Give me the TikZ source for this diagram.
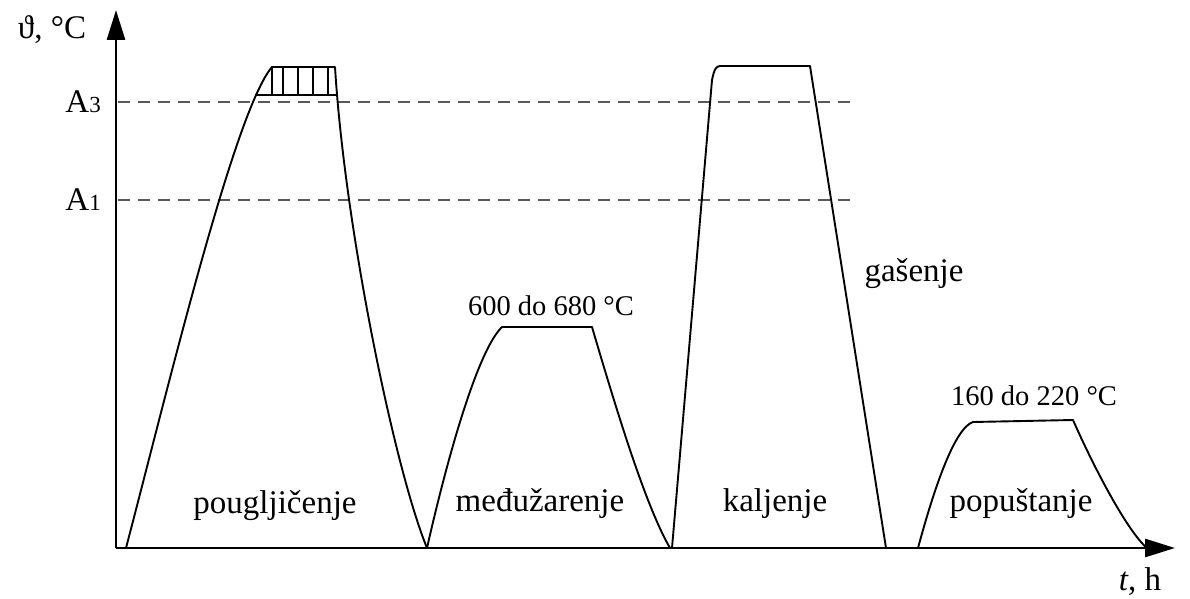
\documentclass[tikz,border=0pt]{standalone}
\usepackage{fontspec}
\setmainfont{Liberation Serif}
\usetikzlibrary{arrows.meta}
\begin{document}
\begin{tikzpicture}[x=1pt,y=-1pt,
  axis/.style={line width=2.8pt,-{Triangle[length=30pt,width=18pt]}},
  curve/.style={line width=1.9pt,line join=round},
  dashline/.style={line width=2pt,draw=black!65,dash pattern=on 12pt off 8pt},
  lab/.style={font=\fontsize{33}{38}\selectfont,inner sep=0pt},
  num/.style={font=\fontsize{28.5}{33}\selectfont,inner sep=0pt}]
\useasboundingbox (0,0) rectangle (1190,599);
% axes
\coordinate (o) at (116,548);
\coordinate (ytip) at (116,10);
\coordinate (xtip) at (1175,548);
\draw[axis] (o) -- (ytip);
\draw[axis] (o) -- (xtip);
% dashed levels
\draw[dashline] (118,102) -- (850,102);
\draw[dashline] (118,200) -- (850,200);
% curve 1
\draw[curve] (126,548) .. controls (170,380) and (235,110) .. (272,67)
  -- (335,67) .. controls (345,230) and (395,470) .. (427,548);
\draw[curve] (255,95) -- (338,95);
\foreach \x in {272,283,298,313,328} \draw[curve] (\x,67) -- (\x,95);
% curve 2
\draw[curve] (427,548) .. controls (448,455) and (478,350) .. (502,327)
  -- (592,327) .. controls (615,405) and (645,505) .. (670,548);
% curve 3
\draw[curve] (672,548) -- (712,80) .. controls (714,70) and (716,66) .. (720,66)
  -- (810,66) -- (886,548);
% curve 4
\draw[curve] (918,548) .. controls (935,485) and (955,428) .. (973,422)
  -- (1073,420) .. controls (1095,470) and (1128,532) .. (1147,548);
% labels
\node[lab] (ylab) at (52,30) {ϑ, °C};
\node[lab,anchor=east] (a3) at (101,102) {A{\fontsize{23}{26}\selectfont 3}};
\node[lab,anchor=east] (a1) at (101,200) {A{\fontsize{23}{26}\selectfont 1}};
\node[num] (t1) at (551,306) {600 do 680 °C};
\node[num] (t2) at (1034,396) {160 do 220 °C};
\node[lab] (g) at (914,274) {gašenje};
\node[lab] (p1) at (275,506) {pougljičenje};
\node[lab] (p2) at (540,504) {međužarenje};
\node[lab] (p3) at (775,504) {kaljenje};
\node[lab] (p4) at (1021,504) {popuštanje};
\node[lab] (xlab) at (1140,582) {\textit{t}, h};
\end{tikzpicture}
\end{document}
